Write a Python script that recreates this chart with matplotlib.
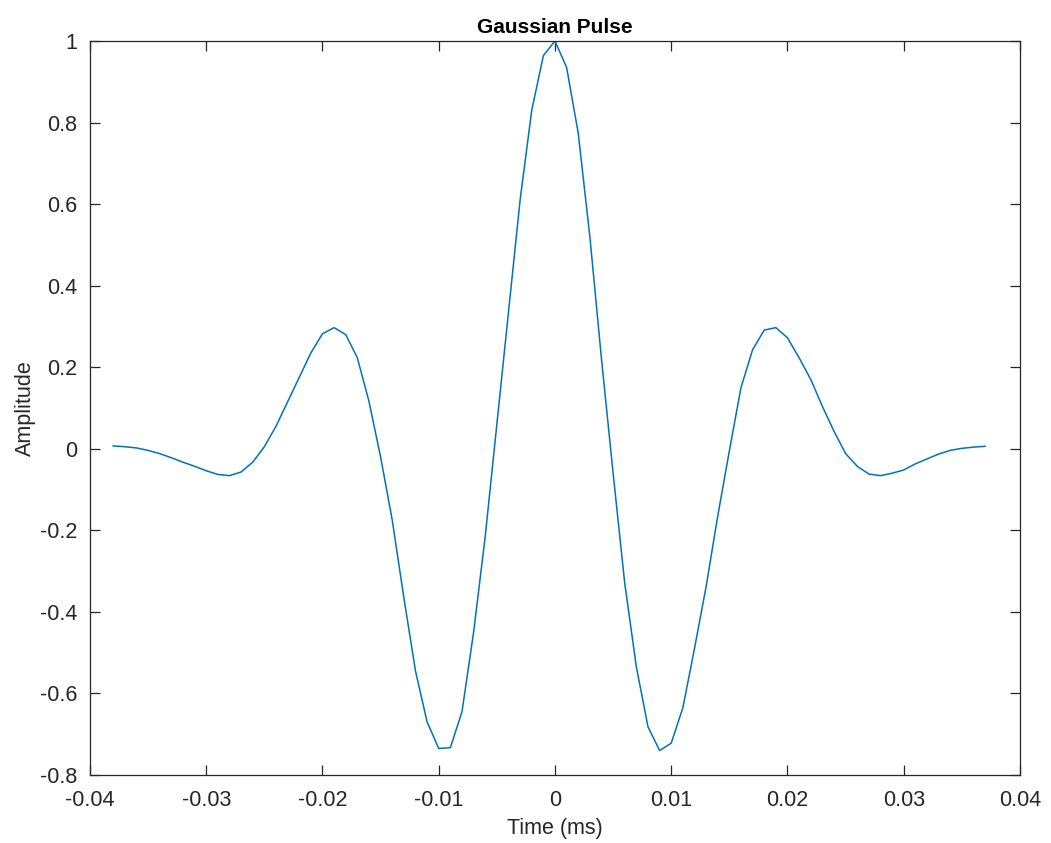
import matplotlib
matplotlib.use("Agg")
import matplotlib.pyplot as plt

# samples (time in ms, step 0.001)
t_ms = [k / 1000.0 for k in range(-38, 38)]
amp = [
    0.007, 0.005, 0.002, -0.004, -0.012, -0.022, -0.033, -0.043, -0.054, -0.063,
    -0.066, -0.057, -0.033, 0.005, 0.055, 0.115, 0.175, 0.235, 0.282, 0.297,
    0.280, 0.223, 0.116, -0.020, -0.175, -0.365, -0.545, -0.670, -0.735, -0.733,
    -0.645, -0.450, -0.215, 0.060, 0.335, 0.610, 0.830, 0.964, 1.000, 0.935,
    0.774, 0.520, 0.220, -0.060, -0.330, -0.535, -0.682, -0.740, -0.722, -0.635,
    -0.490, -0.338, -0.165, -0.005, 0.150, 0.243, 0.291, 0.297, 0.272, 0.223,
    0.170, 0.104, 0.043, -0.012, -0.043, -0.062, -0.066, -0.060, -0.052, -0.037,
    -0.025, -0.013, -0.004, 0.001, 0.004, 0.006,
]

xticks = [-0.04, -0.03, -0.02, -0.01, 0, 0.01, 0.02, 0.03, 0.04]
xlabels = ["-0.04", "-0.03", "-0.02", "-0.01", "0", "0.01", "0.02", "0.03", "0.04"]
yticks = [-0.8, -0.6, -0.4, -0.2, 0, 0.2, 0.4, 0.6, 0.8, 1]
ylabels = ["-0.8", "-0.6", "-0.4", "-0.2", "0", "0.2", "0.4", "0.6", "0.8", "1"]

plt.rcParams["font.family"] = ["Liberation Sans", "DejaVu Sans"]
plt.rcParams["axes.unicode_minus"] = False

fig = plt.figure(figsize=(10.51, 8.43), dpi=100, facecolor="white")
ax = fig.add_axes([0.0856, 0.0807, 0.8849, 0.8707])

ax.plot(t_ms, amp, color="#0072BD", lw=1.1)

ax.set_xlim(-0.04, 0.04)
ax.set_ylim(-0.8, 1)
ax.set_xticks(xticks)
ax.set_xticklabels(xlabels)
ax.set_yticks(yticks)
ax.set_yticklabels(ylabels)

edge = "#262626"
for spine in ax.spines.values():
    spine.set_edgecolor(edge)
    spine.set_linewidth(0.9)
ax.tick_params(direction="in", length=7, width=0.9, colors=edge,
               labelsize=15.5, top=True, right=True)
ax.tick_params(axis="x", pad=11)
ax.tick_params(axis="y", pad=9)
for lbl in ax.get_xticklabels() + ax.get_yticklabels():
    lbl.set_color("#262626")

ax.set_xlabel("Time (ms)", fontsize=15.5, color="#262626", labelpad=5)
ax.set_ylabel("Amplitude", fontsize=15.5, color="#262626", labelpad=3)
ax.set_title("Gaussian Pulse", fontsize=15, fontweight="bold", color="black", pad=6)

fig.savefig("out.png", dpi=100, facecolor=fig.get_facecolor())
plt.close(fig)
